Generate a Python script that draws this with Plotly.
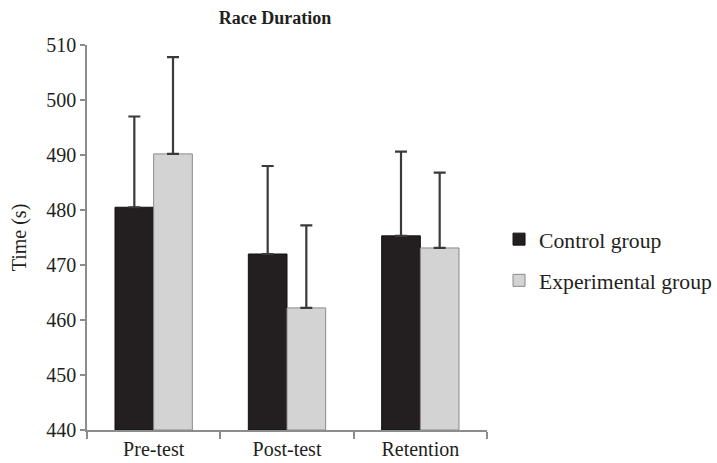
import plotly.graph_objects as go

categories = ["Pre-test", "Post-test", "Retention"]
control = [480.5, 472.0, 475.3]
control_err = [16.5, 16.0, 15.3]
experimental = [490.2, 462.2, 473.1]
experimental_err = [17.6, 15.0, 13.7]
y_ticks = [440, 450, 460, 470, 480, 490, 500, 510]

FONT = "Liberation Serif"

fig = go.Figure()
fig.add_trace(go.Bar(
    x=categories, y=[v - 440 for v in control], base=440,
    name="Control group", legendgroup="c",
    marker=dict(color="#231f20", line=dict(color="#111111", width=1)),
    error_y=dict(type="data", symmetric=False, array=control_err,
                 arrayminus=[0, 0, 0], color="#3a3a3a", thickness=2.2, width=6),
))
fig.add_trace(go.Bar(
    x=categories, y=[v - 440 for v in experimental], base=440,
    name="Experimental group", legendgroup="e",
    marker=dict(color="#d3d3d3", line=dict(color="#8a8a8a", width=1)),
    error_y=dict(type="data", symmetric=False, array=experimental_err,
                 arrayminus=[0, 0, 0], color="#3a3a3a", thickness=2.2, width=6),
))

fig.update_layout(
    width=717, height=463,
    margin=dict(l=87, r=230, t=45, b=33),
    paper_bgcolor="white", plot_bgcolor="white",
    font=dict(family=FONT, size=20, color="#231f20"),
    title=dict(text="<b>Race Duration</b>", x=0.3835, xanchor="center",
               y=0.961, yanchor="middle", font=dict(size=18)),
    barmode="group", bargap=0.42, bargroupgap=0.0,
    showlegend=True,
    legend=dict(xref="container", yref="container", x=0.696, xanchor="left",
                y=0.4384, yanchor="middle",
                font=dict(size=21.7), tracegroupgap=10, itemwidth=30),
    xaxis=dict(showline=True, linecolor="#8c8c8c", linewidth=1.5,
               ticks="outside", tickson="boundaries", ticklen=7,
               tickcolor="#8c8c8c", tickwidth=1.5, showgrid=False,
               tickfont=dict(size=20), automargin=False),
    yaxis=dict(range=[440, 510], tickvals=y_ticks, showline=True,
               linecolor="#8c8c8c", linewidth=1.5, ticks="outside",
               ticklen=5, tickcolor="#8c8c8c", tickwidth=1.5,
               showgrid=False, zeroline=False, tickfont=dict(size=20),
               automargin=False,
               title=dict(text="Time (s)", standoff=14, font=dict(size=20))),
)

fig.write_html("out.html", config={"displayModeBar": False},
               post_script="document.body.style.margin='0';")
